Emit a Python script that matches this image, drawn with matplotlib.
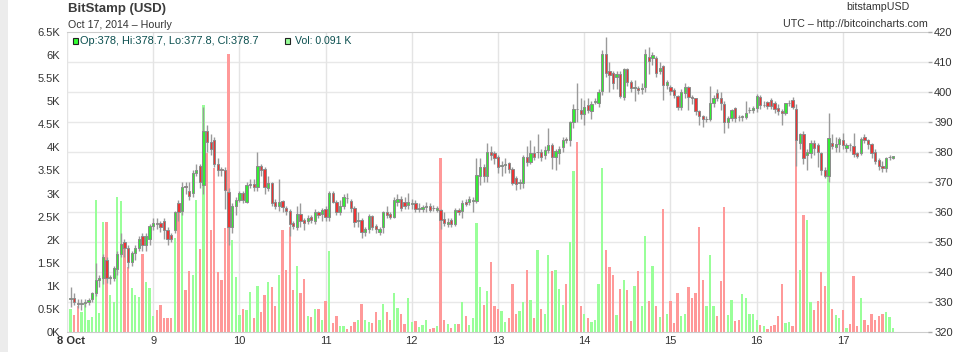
"""
BitStamp (USD) hourly candlestick chart with volume, Oct 8 - Oct 17 2014
"""
import numpy as np
import matplotlib
matplotlib.use('Agg')
import matplotlib.pyplot as plt
from matplotlib.patches import Rectangle
from matplotlib.transforms import ScaledTranslation

plt.rcParams['font.family'] = ['Liberation Sans', 'DejaVu Sans']

# hourly OHLC + volume (K), starting Oct 8 00:00 UTC
opens = [
    331, 331.5, 329.8, 329.2, 329.6, 330, 331, 333, 337.5, 338,
    344, 338, 338, 341, 346, 350, 348, 343.5, 346.5, 348,
    352, 349, 351, 355.5, 356.5, 356.5, 357, 354, 352.5, 354,
    363, 360.5, 368.6, 367, 366.5, 373, 375.5, 369, 387, 383.5,
    384, 376, 374.2, 374, 366.8, 355, 362, 364, 366.2, 363.5,
    369, 369.5, 368.5, 375.5, 374.5, 368, 369.8, 363.5, 362, 363.8,
    361.5, 360.5, 356.4, 355, 359.5, 357.5, 357, 358.5, 357, 360,
    359.5, 361, 358.5, 366.5, 363.5, 360, 362, 364.8, 363.8, 361.2,
    357, 357.3, 353.2, 354.3, 358.7, 355.4, 353.3, 354.9, 360.1, 359.2,
    358.4, 363.3, 364.5, 363.5, 362.5, 362.7, 363, 361, 360.9, 361.6,
    362, 361.5, 360.8, 360.7, 357.8, 356, 357.5, 355.9, 360.7, 360.2,
    363.5, 363.4, 363.6, 363.8, 372, 375, 372, 380, 379.8, 378.2,
    375.2, 375.7, 376.4, 374.2, 371.2, 369.8, 369.8, 378.4, 376.8, 379.8,
    380, 380.1, 379, 380.6, 382.4, 378.4, 379.8, 381.8, 384.3, 384,
    389.9, 394.5, 394, 392.7, 395.7, 393.8, 396.6, 396.2, 400.4, 412.7,
    407.1, 406.2, 404.9, 406, 398.4, 407.6, 403.4, 401.3, 401.5, 400.9,
    401.6, 411.8, 411.2, 411.2, 407.1, 408.7, 402.3, 401.8, 400.7, 398.7,
    394.9, 399.6, 401.6, 398.3, 397.9, 393.7, 392, 390.9, 390.9, 396.4,
    399.6, 397.9, 396, 390.1, 391.2, 394.6, 391.8, 391.6, 391.8, 394,
    394, 394.6, 398.5, 395.6, 396.8, 397.3, 396.2, 394.8, 393.8, 393,
    396.2, 397.3, 394.5, 383, 386, 379, 379.8, 382.9, 382.3, 379.8,
    374, 372.1, 382.9, 381.8, 382.7, 384, 381.2, 382.4, 382.1, 379.6,
    379.6, 385.1, 384, 382.6, 380.1, 377.3, 375.3, 374.6, 378.2, 378,
]
highs = [
    335, 333, 331, 331, 331, 331.5, 333.5, 343, 339, 346,
    345, 339, 342, 347, 353, 351, 349, 347, 349, 352,
    353, 353, 356, 358, 358, 357, 358, 355, 353, 360.5,
    364, 370, 370, 370, 374, 376, 376, 395, 389, 386,
    385, 378, 375, 375, 368, 363, 365, 367, 367, 370,
    371, 371, 380, 376, 375, 372, 370, 364.5, 371, 364,
    362, 361, 357, 362, 363, 358, 359, 359, 361, 360.5,
    361.5, 362, 367, 367, 364, 364, 366, 366.5, 364.5, 362,
    360, 358, 355, 359.5, 359, 356, 355, 360.5, 362, 360,
    365, 366, 365.5, 365, 366.5, 364.5, 364, 363, 362.5, 363.5,
    363, 362.5, 362, 361, 360, 358, 358, 361.5, 361.5, 364,
    364.5, 365.5, 365, 378, 378, 376, 383, 382, 380.5, 379,
    377, 378, 376.6, 375, 372, 371, 379, 382, 384, 382,
    386, 381, 382, 388, 383, 381, 382, 385, 385, 390.5,
    396, 403, 398, 397.5, 398, 397, 398, 401, 414, 418.5,
    410, 407, 407, 407, 408, 408, 404, 404, 402, 403,
    414.5, 415, 413.5, 412, 410, 409, 404, 402.5, 401.5, 399,
    401, 403, 402, 399, 398, 394, 392.5, 392, 402, 399,
    401, 400, 397, 392, 394.5, 395, 392.5, 392.5, 397, 395,
    395.5, 399.5, 399, 397, 397, 398, 397, 396, 394.5, 396.5,
    397.5, 398.5, 396, 386.5, 387, 381, 384, 384, 383, 380,
    375, 393, 386, 385, 385, 386.5, 383, 383, 386.5, 380,
    385, 386, 384.5, 383, 381, 378, 377, 378.5, 379, 378.7,
]
lows = [
    328.5, 329, 328, 327.5, 328.5, 329, 330, 332, 335, 336,
    336.5, 336, 337, 339, 345, 345, 341.5, 342, 344, 347,
    347, 347, 349, 354, 354.5, 353.5, 351, 349, 350, 353,
    357, 359, 366, 364, 365, 372, 368, 366, 380, 379,
    375, 372, 372, 361, 349, 353, 359, 363.5, 363, 363,
    368, 367, 367, 372, 366, 367, 362, 361, 360.5, 360,
    359, 352, 354.5, 354, 355, 354, 356, 356.5, 356, 358,
    357, 357, 357, 363, 359, 359, 361, 363, 360, 355,
    355, 351.5, 352, 353, 354, 353, 352.3, 353, 358, 357.8,
    358, 362, 360.5, 361, 361, 361, 360, 360, 360, 360,
    360, 360.5, 360, 354.5, 355.5, 355, 355, 355.5, 359, 358,
    362, 362.5, 360, 363, 369, 370, 370, 377.5, 376, 373,
    372, 373, 373, 369, 367.5, 367.8, 368, 375.5, 376, 377.5,
    378, 377, 377.8, 379.8, 374.5, 374, 376, 380, 383, 382,
    388, 390, 391, 389, 393, 391, 396, 395, 399, 405,
    400, 401, 401, 398, 397.5, 402, 400, 397, 399.5, 399.5,
    400, 406, 409, 405, 406, 397.5, 401, 399, 398, 394,
    394, 398, 394, 396, 392.5, 389, 388.5, 390, 390.5, 395,
    397, 394, 386.5, 388, 390.5, 390, 390.5, 390.5, 391, 393,
    393, 393.5, 394.5, 395, 394.5, 394.5, 393, 392.5, 389, 392.5,
    395.5, 394.5, 375.5, 381, 376, 374, 378, 379, 375, 372.5,
    371.5, 370, 381, 380, 380, 381, 380, 380.5, 378.5, 378,
    379, 383, 381, 378, 376, 374, 373.5, 373.5, 377.5, 377.8,
]
closes = [
    331.5, 330, 329.3, 329.8, 330.1, 330.8, 333, 337.3, 338, 345,
    338, 338.2, 341.3, 346, 349.5, 348, 343.5, 346.5, 348, 351,
    349, 352, 355.5, 356.5, 356, 355, 354, 351, 351, 360,
    360, 368.5, 368.4, 365.5, 373, 374, 370, 387, 383.5, 381,
    376, 374, 374, 367.5, 355, 362, 364, 366.2, 364, 369,
    369.5, 368.5, 375.5, 374, 368.5, 369.8, 363, 362, 363.5, 361.5,
    360.2, 356, 355.5, 359.5, 357, 356.5, 358, 357.5, 360, 359,
    360.8, 358.5, 366.5, 363.5, 360, 362, 365, 364.5, 361.2, 356.8,
    357.5, 353.2, 354.3, 358.7, 355.1, 354.2, 354.3, 359.9, 359, 358.4,
    364, 364.2, 361.3, 362, 363.5, 363.1, 361, 361.5, 361.6, 362,
    360.7, 361.2, 361.3, 357.3, 356.2, 356.8, 355.9, 360.7, 359.9, 363,
    362.8, 364.5, 364, 372.3, 375, 372, 380, 379, 377.9, 374.9,
    375.7, 375.9, 374.2, 369.8, 369.3, 369.9, 378.4, 376.8, 379.8, 378.2,
    380.1, 378.2, 380.6, 382.4, 378.4, 380.3, 381, 384, 384.1, 389.9,
    394.4, 394.2, 392.7, 394.9, 394, 396, 396.9, 400.1, 412.7, 406.2,
    405.7, 403.1, 406, 398.7, 407.6, 403.4, 401.2, 401.6, 400.8, 401.2,
    412.7, 410.4, 412.3, 406.2, 407.9, 402.3, 403.4, 400.4, 399, 394.9,
    400.1, 401.8, 398.2, 398.1, 393.7, 392, 390.9, 391.1, 396.4, 397.9,
    397.9, 396.4, 390.1, 391.2, 394, 391.2, 391.6, 391.9, 392.9, 394.1,
    394.6, 398.8, 395.7, 395.8, 395.3, 395.3, 394.2, 393.7, 393, 396.2,
    396.3, 395.1, 384, 386, 377.9, 380.1, 382.9, 381.2, 380.1, 374,
    372.1, 384.6, 382, 382.7, 384.2, 382.3, 382.3, 382.2, 379.3, 378.7,
    384.2, 384, 382.6, 379.6, 377.1, 375.3, 374.6, 377.9, 378.5, 378.7,
]
volumes = [
    0.49, 0.37, 0.56, 0.44, 0.64, 0.27, 0.33, 2.86, 0.42, 2.38,
    2.38, 0.8, 0.65, 2.93, 2.84, 1.81, 1.4, 0.96, 0.8, 0.75,
    1.69, 1.08, 0.95, 0.35, 0.48, 0.58, 0.31, 0.31, 0.3, 2.03,
    2.57, 2.79, 0.9, 1.33, 1.23, 2.86, 1.8, 4.92, 3.87, 2.2,
    3.55, 1.3, 1.13, 2.25, 6.02, 2.0, 1.2, 0.37, 0.49, 0.48,
    0.87, 0.31, 1.0, 0.44, 0.8, 1.09, 0.98, 0.56, 1.23, 2.2,
    1.34, 2.28, 0.91, 1.43, 0.84, 1.14, 0.35, 0.32, 0.49, 0.49,
    0.26, 0.67, 1.75, 0.2, 0.35, 0.12, 0.12, 0.06, 0.13, 0.22,
    0.27, 0.61, 0.26, 0.22, 0.19, 0.43, 0.27, 0.61, 0.43, 0.27,
    0.84, 0.53, 0.39, 0.17, 0.74, 0.21, 0.24, 0.1, 0.15, 0.26,
    0.06, 0.09, 0.14, 3.78, 0.26, 0.17, 0.09, 0.17, 0.17, 0.66,
    0.35, 0.15, 0.31, 2.37, 0.97, 0.58, 0.89, 1.52, 0.56, 0.49,
    0.45, 0.22, 0.3, 1.04, 0.4, 0.45, 0.64, 1.34, 0.69, 0.31,
    1.78, 0.5, 0.4, 1.67, 1.33, 1.34, 0.93, 0.58, 1.04, 1.94,
    3.49, 4.12, 0.56, 0.4, 0.3, 0.21, 0.25, 1.04, 3.56, 1.78,
    1.4, 1.23, 0.37, 0.93, 1.13, 0.91, 0.24, 1.0, 1.32, 0.56,
    2.08, 0.67, 1.43, 0.56, 0.33, 2.66, 0.39, 0.67, 0.2, 0.84,
    0.35, 0.39, 0.98, 0.73, 0.84, 2.28, 1.13, 0.56, 1.67, 0.56,
    0.35, 1.11, 2.71, 0.37, 0.69, 0.24, 0.26, 0.82, 0.74, 0.4,
    0.4, 0.26, 0.15, 0.12, 0.07, 0.12, 0.15, 0.35, 1.04, 0.19,
    0.21, 0.12, 4.8, 1.34, 2.53, 2.43, 0.64, 0.48, 0.67, 1.29,
    1.0, 3.5, 0.5, 0.37, 0.31, 0.48, 0.09, 0.17, 1.21, 0.12,
    0.74, 0.26, 0.15, 0.39, 0.26, 0.35, 0.39, 0.44, 0.33, 0.091,
]

day_labels = ['8 Oct', '9', '10', '11', '12', '13', '14', '15', '16', '17']
vol_ticks = np.arange(0, 6.51, 0.5)
price_ticks = np.arange(320, 421, 10)

o = np.array(opens)
h = np.array(highs)
l = np.array(lows)
c = np.array(closes)
v = np.array(volumes)
hours = np.arange(1, len(o) + 1)   # candle drawn at end of its hour

up = c >= o
body_col = np.where(up, '#33ee33', '#ee3333')
vol_col = np.where(up, '#99ff99', '#ff9999')

W, H = 964, 352
fig = plt.figure(figsize=(W / 100, H / 100), dpi=100)
ax = fig.add_axes([67 / W, 20 / H, (928 - 67) / W, 300 / H])
ax2 = ax.twinx()

vol_lim = (0, 6.5)
price_lim = (320, 420)

# grid (drawn behind volume bars)
for p in price_ticks[1:-1]:
    ax.axhline(np.interp(p, price_lim, vol_lim), color='#e8e8e8', lw=1, zorder=0)
ax.set_xticks(np.arange(0, 24 * len(day_labels), 24))
ax.set_xticklabels(day_labels)
ax.grid(axis='x', color='#e4e4e4', lw=1, zorder=0)
ax.set_axisbelow(True)

# volume
ax.bar(hours, v, width=0.64, color=vol_col, lw=0, zorder=2)

# candles
ax2.vlines(hours, l, h, colors='#9a9a9a', lw=1, zorder=2)
ax2.bar(hours, c - o, bottom=o, width=0.64, color=body_col,
        edgecolor='#8a8a8a', lw=0.7, zorder=3)

ax.set_xlim(0, 239.7)
ax.set_ylim(*vol_lim)
ax2.set_ylim(*price_lim)
ax.set_yticks(vol_ticks)
ax.set_yticklabels([f'{t:g}K' for t in vol_ticks])
ax2.set_yticks(price_ticks)

for s in ['left', 'right']:
    ax.spines[s].set_visible(False)
for s in ['top', 'bottom']:
    ax.spines[s].set_color('#cccccc')
for s in ax2.spines.values():
    s.set_visible(False)

ax.tick_params(axis='y', length=0, pad=5, labelsize=8, labelcolor='#333333')
ax.tick_params(axis='x', length=0, pad=3, labelsize=8, labelcolor='#333333')
ax2.tick_params(axis='y', length=3, width=1, color='#aaaaaa', pad=1.5,
                labelsize=8, labelcolor='#333333')

first = ax.get_xticklabels()[0]
first.set_fontweight('bold')
first.set_transform(first.get_transform() + ScaledTranslation(4 / 100, 0, fig.dpi_scale_trans))


def fx(px):
    return px / W


def fy(py):
    return 1 - py / H


# left grey strip
fig.patches.append(Rectangle((0, 0), 7.5 / W, 1, transform=fig.transFigure,
                             facecolor='#ececec', edgecolor='none'))

# header text
fig.text(fx(68), fy(9), 'BitStamp (USD)', fontsize=9.5, fontweight='bold',
         color='#3c3c3c', va='center', ha='left')
fig.text(fx(68), fy(25), 'Oct 17, 2014 \u2013 Hourly', fontsize=7.7,
         color='#333333', va='center', ha='left')
fig.text(fx(910), fy(7), 'bitstampUSD', fontsize=7.7, color='#333333',
         va='center', ha='right')
fig.text(fx(928), fy(24), 'UTC \u2013 http://bitcoincharts.com', fontsize=7.7,
         color='#333333', va='center', ha='right')

# legend row
fig.patches.append(Rectangle((fx(73), fy(44)), 5 / W, 6 / H, transform=fig.transFigure,
                             facecolor='#33ff33', edgecolor='#222222', lw=0.8))
fig.text(fx(80), fy(41), f'Op:{o[-1]:g}, Hi:{h[-1]:g}, Lo:{l[-1]:g}, Cl:{c[-1]:g}',
         fontsize=7.9, color='#0b4f4f', va='center', ha='left')
fig.patches.append(Rectangle((fx(285), fy(44)), 5 / W, 6 / H, transform=fig.transFigure,
                             facecolor='#99ff99', edgecolor='#222222', lw=0.8))
fig.text(fx(295), fy(41), f'Vol: {v[-1]:.3f} K', fontsize=7.6, color='#0b4f4f',
         va='center', ha='left')

fig.savefig('out.png', dpi=100)
